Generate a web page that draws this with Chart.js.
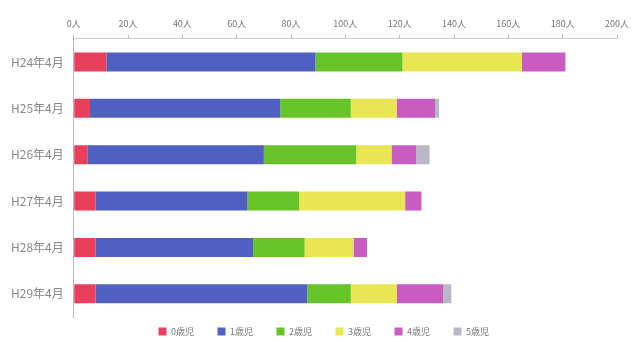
<!DOCTYPE html>
<html>
<head>
<meta charset="utf-8">
<script src="https://cdn.jsdelivr.net/npm/chart.js@4/dist/chart.umd.min.js"></script>
<style>
  body { margin: 0; background: #fff; }
  #wrap { width: 635px; height: 342px; }
</style>
</head>
<body>
<div id="wrap"><canvas id="chart"></canvas></div>
<script>
const categories = ['H24年4月', 'H25年4月', 'H26年4月', 'H27年4月', 'H28年4月', 'H29年4月'];
const seriesNames = ['0歳児', '1歳児', '2歳児', '3歳児', '4歳児', '5歳児'];
const age0 = [12, 6, 5, 8, 8, 8];
const age1 = [77, 70, 65, 56, 58, 78];
const age2 = [32, 26, 34, 19, 19, 16];
const age3 = [44, 17, 13, 39, 18, 17];
const age4 = [16, 14, 9, 6, 5, 17];
const age5 = [0, 1.5, 5, 0, 0, 3];
const colors = ['#e8405c', '#5060c0', '#66c42a', '#e8e652', '#c85cc0', '#b8b8c8'];

const values = [age0, age1, age2, age3, age4, age5];

// nudge the legend a bit to the right, like the original
const legendShift = {
    id: 'legendShift',
    afterLayout(chart) {
        chart.legend.left += 16;
        chart.legend.right += 16;
    },
};

new Chart(document.getElementById('chart'), {
    type: 'bar',
    data: {
        labels: categories,
        datasets: values.map((v, i) => ({
            label: seriesNames[i],
            data: v,
            backgroundColor: colors[i],
            barPercentage: 0.82,
            categoryPercentage: 0.5,
        })),
    },
    options: {
        indexAxis: 'y',
        responsive: true,
        maintainAspectRatio: false,
        animation: false,
        layout: { padding: { left: 1, right: 7, top: 12, bottom: -4 } },
        scales: {
            x: {
                position: 'top',
                stacked: true,
                min: 0,
                max: 200,
                ticks: {
                    stepSize: 20,
                    callback: (v) => v + '人',
                    color: '#777',
                    font: { family: 'Noto Sans CJK JP', size: 9 },
                    padding: 6,
                },
                grid: { drawOnChartArea: false, drawTicks: true, tickLength: 4, color: '#bbb' },
                border: { color: '#ccc' },
            },
            y: {
                stacked: true,
                ticks: {
                    color: '#888',
                    font: { family: 'Noto Sans CJK JP', size: 12 },
                    padding: 10,
                },
                grid: { drawOnChartArea: false, drawTicks: false },
                border: { color: '#bbb' },
            },
        },
        plugins: {
            legend: {
                position: 'bottom',
                labels: {
                    boxWidth: 8,
                    boxHeight: 8,
                    padding: 10,
                    color: '#777',
                    font: { family: 'Noto Sans CJK JP', size: 9 },
                    generateLabels: (chart) =>
                        Chart.defaults.plugins.legend.labels.generateLabels(chart)
                            .map((item) => ({ ...item, text: item.text + '\u2002\u2002\u2002' })),
                },
            },
            tooltip: { enabled: false },
        },
    },
    plugins: [legendShift],
});
</script>
</body>
</html>
